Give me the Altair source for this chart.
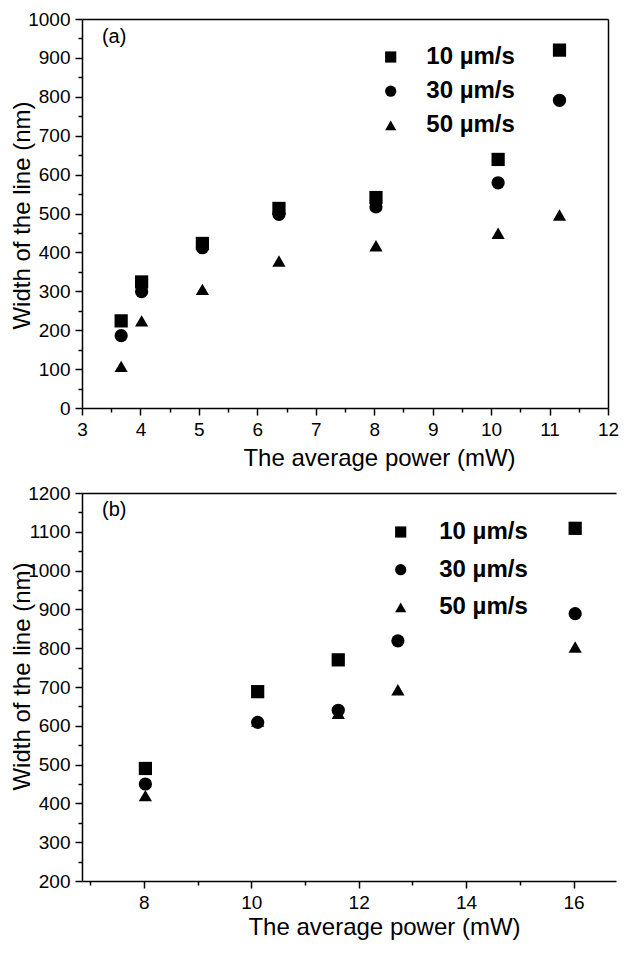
import altair as alt
import pandas as pd

FONT = "Liberation Sans"

speeds = ["10 µm/s", "30 µm/s", "50 µm/s"]
shapes = ["square", "circle", "triangle-up"]

# ---- panel (a) ----
power_a = [3.67, 4.02, 5.06, 6.37, 8.03, 10.12, 11.17]
w10_a = [224, 324, 423, 513, 541, 639, 920]
w30_a = [186, 299, 412, 498, 517, 579, 791]
w50_a = [107, 224, 305, 378, 417, 449, 496]

# ---- panel (b) ----
power_b = [8.03, 10.12, 11.62, 12.73, 16.03]
w10_b = [490, 688, 770, None, 1109]
w30_b = [450, 609, 640, 819, 889]
w50_b = [420, 612, 632, 693, 803]

# ticks
xmaj_a = [3, 4, 5, 6, 7, 8, 9, 10, 11, 12]
xmin_a = [3.5, 4.5, 5.5, 6.5, 7.5, 8.5, 9.5, 10.5, 11.5]
ymaj_a = [0, 100, 200, 300, 400, 500, 600, 700, 800, 900, 1000]
ymin_a = [50, 150, 250, 350, 450, 550, 650, 750, 850, 950]
xmaj_b = [8, 10, 12, 14, 16]
xmin_b = [7, 9, 11, 13, 15]
ymaj_b = [200, 300, 400, 500, 600, 700, 800, 900, 1000, 1100, 1200]
ymin_b = [250, 350, 450, 550, 650, 750, 850, 950, 1050, 1150]

# panel tags
tag_a = ["(a)"]; tag_a_x = [3.55]; tag_a_y = [953]
tag_b = ["(b)"]; tag_b_x = [7.45]; tag_b_y = [1156]


def long_df(power, series):
    rows = []
    for sp, vals in zip(speeds, series):
        for p, v in zip(power, vals):
            if v is not None:
                rows.append({"power": p, "width": v, "speed": sp})
    return pd.DataFrame(rows)


AX = dict(domainColor="black", domainWidth=1.5, tickColor="black", tickWidth=1.5,
          labelFont=FONT, labelFontSize=19, labelColor="black", grid=False,
          labelFlush=False, labelOverlap=False)
BORDER = dict(domain=True, domainColor="black", domainWidth=1.5, ticks=False,
              labels=False, title=None, grid=False)


def panel(df, tags, tx, ty, xdom, ydom, xmaj, xmin, ymaj, ymin, w, h,
          xtitle_x, xtitle_y, ytitle_x, ytitle_y, lx, ly, rowpad, loff, right_border):
    xs = alt.Scale(domain=xdom, nice=False, zero=False)
    ys = alt.Scale(domain=ydom, nice=False, zero=False)

    major_x = alt.Axis(orient="bottom", values=xmaj, tickSize=7, labelPadding=5,
                       title="The average power (mW)", titleX=xtitle_x, titleY=xtitle_y,
                       titleAlign="center", titleBaseline="top", titleFont=FONT,
                       titleFontSize=24, titleFontWeight="normal", titleColor="black",
                       format="d", **AX)
    major_y = alt.Axis(orient="left", values=ymaj, tickSize=7, labelPadding=5,
                       title="Width of the line (nm)", titleX=ytitle_x, titleY=ytitle_y,
                       titleAngle=270, titleAlign="center", titleBaseline="alphabetic",
                       titleFont=FONT, titleFontSize=24, titleFontWeight="normal",
                       titleColor="black", format="d", **AX)
    minor_x = alt.Axis(orient="bottom", values=xmin, tickSize=4, labels=False,
                       domain=False, title=None, tickColor="black", tickWidth=1.5, grid=False)
    minor_y = alt.Axis(orient="left", values=ymin, tickSize=4, labels=False,
                       domain=False, title=None, tickColor="black", tickWidth=1.5, grid=False)
    top_x = alt.Axis(orient="top", **BORDER)
    right_y = alt.Axis(orient="right", **BORDER) if right_border else None

    minor = alt.Chart(df).mark_point(opacity=0).encode(
        x=alt.X("power:Q", scale=xs, axis=minor_x),
        y=alt.Y("width:Q", scale=ys, axis=minor_y),
    )
    pts = alt.Chart(df).mark_point(filled=True, color="black", opacity=1, size=175).encode(
        x=alt.X("power:Q", scale=xs, axis=major_x),
        y=alt.Y("width:Q", scale=ys, axis=major_y),
        shape=alt.Shape("speed:N", scale=alt.Scale(domain=speeds, range=shapes),
                        legend=alt.Legend(orient="none", legendX=lx, legendY=ly, title=None,
                                          labelFont=FONT, labelFontSize=24,
                                          labelFontWeight="bold", labelColor="black",
                                          symbolSize=125, symbolFillColor="black",
                                          symbolStrokeWidth=0, rowPadding=rowpad,
                                          labelOffset=loff, padding=0)),
    )
    tdf = pd.DataFrame({"t": tags, "x": tx, "y": ty})
    txt = alt.Chart(tdf).mark_text(font=FONT, fontSize=20, color="black").encode(
        x=alt.X("x:Q", scale=xs, axis=top_x),
        y=alt.Y("y:Q", scale=ys, axis=right_y),
        text="t:N",
    )
    return alt.layer(minor, pts, txt).resolve_axis(x="independent", y="independent").properties(
        width=w, height=h)


pa = panel(long_df(power_a, [w10_a, w30_a, w50_a]), tag_a, tag_a_x, tag_a_y,
           [3, 12], [0, 1000], xmaj_a, xmin_a, ymaj_a, ymin_a, 526, 389,
           297, 38, -52.3, 196, 296.7, 26, 10.2, 23.6, True)
pb = panel(long_df(power_b, [w10_b, w30_b, w50_b]), tag_b, tag_b_x, tag_b_y,
           [6.85, 16.79], [200, 1200], xmaj_b, xmin_b, ymaj_b, ymin_b, 534, 388,
           302, 34.5, -52.3, 183, 306.7, 27, 13.7, 26.5, False)

chart = alt.vconcat(pa, pb, spacing=14).resolve_scale(
    shape="independent"
).configure_view(strokeWidth=0).properties(
    background="white", padding={"left": 2, "top": 2, "right": 0, "bottom": 0})

chart.save("out.html", embed_options={"renderer": "svg", "actions": False})
